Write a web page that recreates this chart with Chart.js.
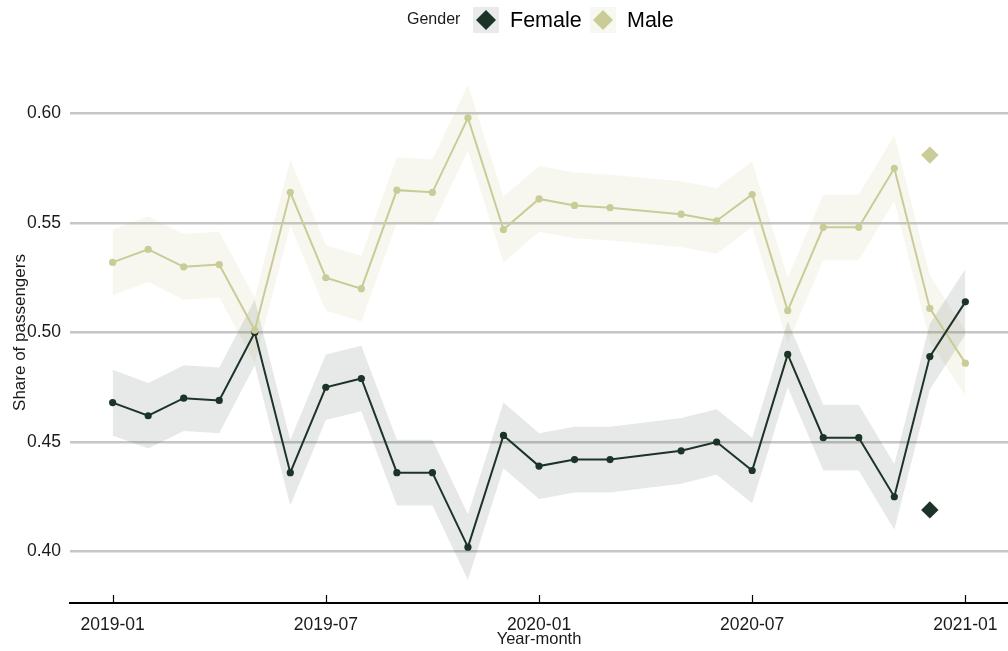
<!DOCTYPE html>
<html>
<head>
<meta charset="utf-8">
<script src="https://cdn.jsdelivr.net/npm/chart.js@4/dist/chart.umd.min.js"></script>
<style>
  html, body { margin: 0; padding: 0; background: #ffffff; }
  #wrap { width: 1008px; height: 651px; }
</style>
</head>
<body>
<div id="wrap"><canvas id="chart" width="1008" height="651"></canvas></div>
<script>
// Monthly share of passengers by gender (2020-04 has no observation)
const months = ['2019-01','2019-02','2019-03','2019-04','2019-05','2019-06','2019-07','2019-08','2019-09','2019-10','2019-11','2019-12',
                '2020-01','2020-02','2020-03','2020-04','2020-05','2020-06','2020-07','2020-08','2020-09','2020-10','2020-11','2020-12','2021-01'];
const tickMonths = ['2019-01','2019-07','2020-01','2020-07','2021-01'];
const yTicks = [0.40, 0.45, 0.50, 0.55, 0.60];

const female     = [0.468,0.462,0.470,0.469,0.500,0.436,0.475,0.479,0.436,0.436,0.402,0.453,0.439,0.442,0.442,null,0.446,0.450,0.437,0.490,0.452,0.452,0.425,0.489,0.514];
const femaleLow  = [0.453,0.447,0.455,0.454,0.485,0.421,0.460,0.464,0.421,0.421,0.387,0.438,0.424,0.427,0.427,null,0.431,0.435,0.422,0.475,0.437,0.437,0.410,0.474,0.499];
const femaleHigh = [0.483,0.477,0.485,0.484,0.515,0.451,0.490,0.494,0.451,0.451,0.417,0.468,0.454,0.457,0.457,null,0.461,0.465,0.452,0.505,0.467,0.467,0.440,0.504,0.529];

const male       = [0.532,0.538,0.530,0.531,0.501,0.564,0.525,0.520,0.565,0.564,0.598,0.547,0.561,0.558,0.557,null,0.554,0.551,0.563,0.510,0.548,0.548,0.575,0.511,0.486];
const maleLow    = [0.517,0.523,0.515,0.516,0.486,0.549,0.510,0.505,0.550,0.549,0.583,0.532,0.546,0.543,0.542,null,0.539,0.536,0.548,0.495,0.533,0.533,0.560,0.496,0.471];
const maleHigh   = [0.547,0.553,0.545,0.546,0.516,0.579,0.540,0.535,0.580,0.579,0.613,0.562,0.576,0.573,0.572,null,0.569,0.566,0.578,0.525,0.563,0.563,0.590,0.526,0.501];

// Reference (population) shares, shown as diamonds
const refMonth = '2020-12';
const refFemale = 0.419;
const refMale = 0.581;

const genders = ['Female', 'Male'];
const FEMALE_COLOR = '#1c3327';
const MALE_COLOR = '#c9cc96';
const FEMALE_BAND = 'rgba(28,51,39,0.105)';
const MALE_BAND = 'rgba(201,204,150,0.15)';
const FONT = '"Liberation Sans", Arial, sans-serif';

function toPoints(values) {
  return months.map((m, i) => values[i] == null ? null : { x: i, y: values[i] }).filter(Boolean);
}

const bandStyle = { borderWidth: 0, pointRadius: 0, pointHoverRadius: 0, tension: 0 };
const lineStyle = { borderWidth: 2, pointRadius: 0, pointHoverRadius: 0, tension: 0 };
const dotStyle  = { showLine: false, pointRadius: 3.6, pointBorderWidth: 0 };

const datasets = [
  { label: 'femaleLow',  data: toPoints(femaleLow),  ...bandStyle, fill: false, order: 5 },
  { label: 'femaleHigh', data: toPoints(femaleHigh), ...bandStyle, fill: '-1', backgroundColor: FEMALE_BAND, order: 5 },
  { label: 'maleLow',    data: toPoints(maleLow),    ...bandStyle, fill: false, order: 5 },
  { label: 'maleHigh',   data: toPoints(maleHigh),   ...bandStyle, fill: '-1', backgroundColor: MALE_BAND, order: 5 },
  { label: 'Male line',   data: toPoints(male),   ...lineStyle, borderColor: MALE_COLOR, fill: false, order: 4 },
  { label: 'Female line', data: toPoints(female), ...lineStyle, borderColor: FEMALE_COLOR, fill: false, order: 3 },
  { label: 'Female', data: toPoints(female), ...dotStyle, pointBackgroundColor: FEMALE_COLOR, backgroundColor: FEMALE_COLOR, order: 2 },
  { label: 'Male',   data: toPoints(male),   ...dotStyle, pointBackgroundColor: MALE_COLOR, backgroundColor: MALE_COLOR, order: 1 },
  { label: 'Female ref', data: [{ x: months.indexOf(refMonth), y: refFemale }], showLine: false,
    pointStyle: 'rectRot', pointRadius: 8.7, pointBorderWidth: 0, pointBackgroundColor: FEMALE_COLOR, order: 0 },
  { label: 'Male ref', data: [{ x: months.indexOf(refMonth), y: refMale }], showLine: false,
    pointStyle: 'rectRot', pointRadius: 8.7, pointBorderWidth: 0, pointBackgroundColor: MALE_COLOR, order: 0 }
];

function diamond(ctx, cx, cy, r, color) {
  ctx.beginPath();
  ctx.moveTo(cx - r, cy);
  ctx.lineTo(cx, cy - r);
  ctx.lineTo(cx + r, cy);
  ctx.lineTo(cx, cy + r);
  ctx.closePath();
  ctx.fillStyle = color;
  ctx.fill();
}

// Axis titles, inward tick marks and the top legend
const decorations = {
  id: 'decorations',
  afterDraw(chart) {
    const ctx = chart.ctx;
    const area = chart.chartArea;
    const xs = chart.scales.x;
    ctx.save();

    // tick marks pointing up from the x axis line
    ctx.strokeStyle = '#000000';
    ctx.lineWidth = 1.2;
    tickMonths.forEach(m => {
      const px = Math.round(xs.getPixelForValue(months.indexOf(m))) + 0.5;
      ctx.beginPath();
      ctx.moveTo(px, area.bottom - 8);
      ctx.lineTo(px, area.bottom);
      ctx.stroke();
    });

    // x axis title
    ctx.fillStyle = '#1a1a1a';
    ctx.font = '16.5px ' + FONT;
    ctx.textAlign = 'center';
    ctx.textBaseline = 'middle';
    ctx.fillText('Year-month', (area.left + area.right) / 2, 639);

    // y axis title
    ctx.save();
    ctx.translate(20, (area.top + area.bottom) / 2);
    ctx.rotate(-Math.PI / 2);
    ctx.font = '17px ' + FONT;
    ctx.fillText('Share of passengers', 0, 0);
    ctx.restore();

    // legend
    const ly = 20;
    ctx.textAlign = 'left';
    ctx.font = '16px ' + FONT;
    ctx.fillStyle = '#1a1a1a';
    ctx.fillText('Gender', 407, ly);

    ctx.fillStyle = '#e8ebe9';
    ctx.fillRect(473, 7, 26, 26);
    diamond(ctx, 486, ly, 10, FEMALE_COLOR);
    ctx.fillStyle = '#000000';
    ctx.font = '21.5px ' + FONT;
    ctx.fillText(genders[0], 510, ly + 1);

    ctx.fillStyle = '#f7f8f1';
    ctx.fillRect(590, 7, 26, 26);
    diamond(ctx, 603, ly, 10, MALE_COLOR);
    ctx.fillStyle = '#000000';
    ctx.font = '21.5px ' + FONT;
    ctx.fillText(genders[1], 627, ly + 1);

    ctx.restore();
  }
};

new Chart(document.getElementById('chart'), {
  type: 'line',
  data: { datasets },
  options: {
    responsive: false,
    animation: false,
    devicePixelRatio: 1,
    layout: { autoPadding: false, padding: { top: 62, left: 0, right: 0, bottom: 0 } },
    plugins: { legend: { display: false }, tooltip: { enabled: false } },
    events: [],
    scales: {
      x: {
        type: 'linear',
        min: -1.2,
        max: 25.2,
        afterFit(scale) {
          scale.height = 48;
          scale.paddingLeft = 0;
          scale.paddingRight = 0;
        },
        afterBuildTicks(scale) { scale.ticks = tickMonths.map(m => ({ value: months.indexOf(m) })); },
        ticks: {
          autoSkip: false,
          maxRotation: 0,
          padding: 12,
          color: '#1a1a1a',
          font: { family: FONT, size: 17.5 },
          callback: v => months[v]
        },
        grid: { display: true, drawOnChartArea: false, drawTicks: false },
        border: { display: true, color: '#000000', width: 2 }
      },
      y: {
        type: 'linear',
        min: 0.3765,
        max: 0.6235,
        afterFit(scale) {
          scale.width = 70;
          scale.paddingTop = 0;
          scale.paddingBottom = 0;
        },
        afterBuildTicks(scale) { scale.ticks = yTicks.map(v => ({ value: v })); },
        ticks: {
          padding: 9,
          color: '#1a1a1a',
          font: { family: FONT, size: 17.5 },
          callback: v => v.toFixed(2)
        },
        grid: { color: '#c6c6c6', lineWidth: 2.5, drawTicks: false },
        border: { display: false }
      }
    }
  },
  plugins: [decorations]
});
</script>
</body>
</html>
